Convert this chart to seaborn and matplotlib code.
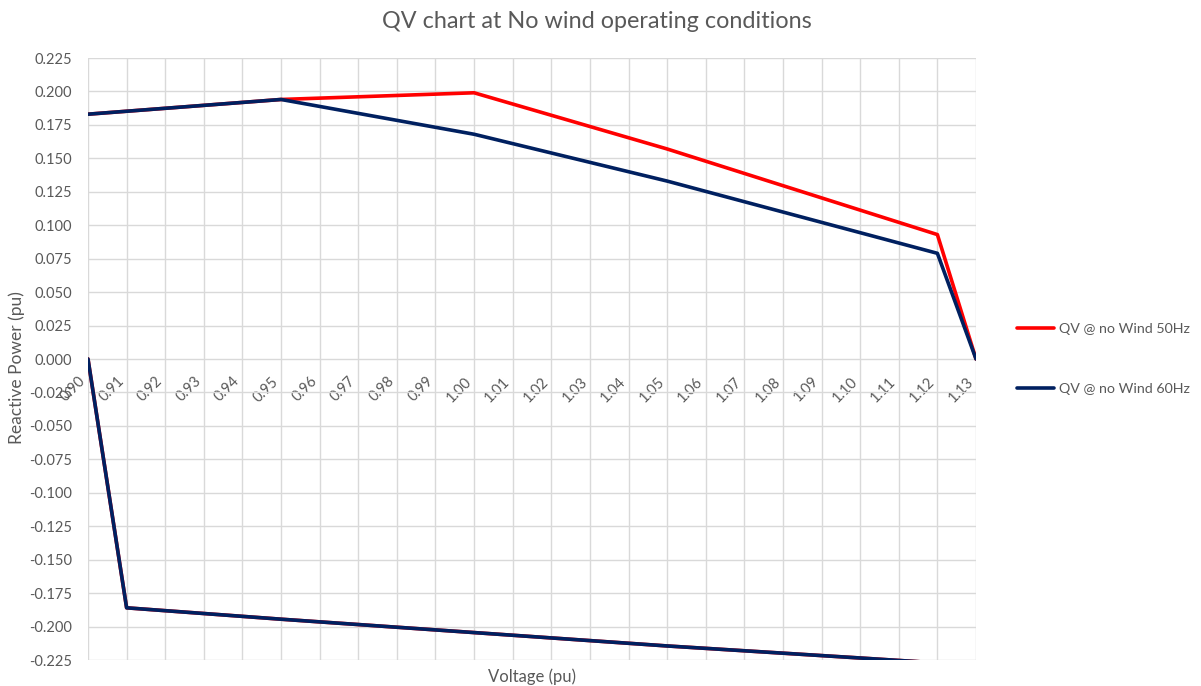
import numpy as np
import pandas as pd
import matplotlib
matplotlib.use("Agg")
import matplotlib.pyplot as plt
import seaborn as sns

# Reactive power (pu) versus bus voltage (pu), no-wind operating case
voltage_upper = [0.90, 0.95, 1.00, 1.05, 1.12, 1.13]
q_50hz_upper = [0.183, 0.194, 0.199, 0.157, 0.093, 0.000]
q_60hz_upper = [0.183, 0.194, 0.168, 0.133, 0.079, 0.000]

# Lower (unstable) branch, shared by both frequencies
voltage_lower = [0.90, 0.91, 0.95, 1.00, 1.05, 1.10, 1.13]
q_lower = [0.000, -0.186, -0.1945, -0.2045, -0.2145, -0.2235, -0.229]

series_names = ["QV @ no Wind 50Hz", "QV @ no Wind 60Hz"]
series_colors = ["#FF0000", "#002060"]

x_ticks = [round(0.90 + 0.01 * i, 2) for i in range(24)]
y_ticks = [round(-0.225 + 0.025 * i, 3) for i in range(19)]

title_text = "QV chart at No wind operating conditions"
x_label = "Voltage (pu)"
y_label = "Reactive Power (pu)"

# Long-form table: one row per point, with a branch id so each branch is its own line
rows = []
for name, q_up in zip(series_names, [q_50hz_upper, q_60hz_upper]):
    for v, q in zip(voltage_upper, q_up):
        rows.append({"series": name, "branch": "upper", "V": v, "Q": q})
    for v, q in zip(voltage_lower, q_lower):
        rows.append({"series": name, "branch": "lower", "V": v, "Q": q})
df = pd.DataFrame(rows)

sns.set_theme(style="white")
plt.rcParams["font.family"] = ["Lato", "DejaVu Sans"]
text_color = "#595959"
grid_color = "#D9D9D9"

fig = plt.figure(figsize=(12.01, 6.86), dpi=100)
ax = fig.add_axes([88 / 1201, 1 - 660 / 686, (976 - 88) / 1201, (660 - 58) / 686])

sns.lineplot(
    data=df, x="V", y="Q", hue="series", hue_order=series_names,
    palette=series_colors, units="branch", estimator=None, sort=False,
    linewidth=2.6, ax=ax,
)

ax.set_xlim(0.90, 1.13)
ax.set_ylim(-0.225, 0.225)
ax.set_xticks(x_ticks)
ax.set_xticklabels([f"{t:.2f}" for t in x_ticks])
ax.set_yticks(y_ticks)
ax.set_yticklabels([f"{t:.3f}" for t in y_ticks])

# The horizontal axis crosses at Q = 0
ax.spines["bottom"].set_position(("data", 0.0))
for side in ["bottom", "top", "left", "right"]:
    ax.spines[side].set_visible(False)

ax.grid(True, color=grid_color, linewidth=1.0)
ax.set_axisbelow(True)
ax.tick_params(axis="both", length=0, labelsize=10.5, labelcolor=text_color)
ax.tick_params(axis="y", pad=11.5)
ax.tick_params(axis="x", pad=11, labelrotation=45)
for lbl in ax.get_xticklabels():
    lbl.set_horizontalalignment("right")
    lbl.set_verticalalignment("top")

ax.set_xlabel(x_label, fontsize=12, color=text_color)
ax.set_ylabel(y_label, fontsize=12.5, color=text_color)
ax.xaxis.set_label_coords(0.5, -0.028)
ax.xaxis.label.set_verticalalignment("center")
ax.yaxis.set_label_coords(-0.071, 0.485)

fig.suptitle(title_text, x=0.497, y=0.969, va="center", fontsize=16.8, color=text_color)

sns.move_legend(
    ax, "center left", bbox_to_anchor=(1.046, 0.5), frameon=False, title=None,
    fontsize=10.3, labelspacing=3.3, handlelength=2.6, handletextpad=0.35,
    borderpad=0, borderaxespad=0,
)
for t in ax.get_legend().get_texts():
    t.set_color(text_color)

fig.savefig("out.png", dpi=100)
